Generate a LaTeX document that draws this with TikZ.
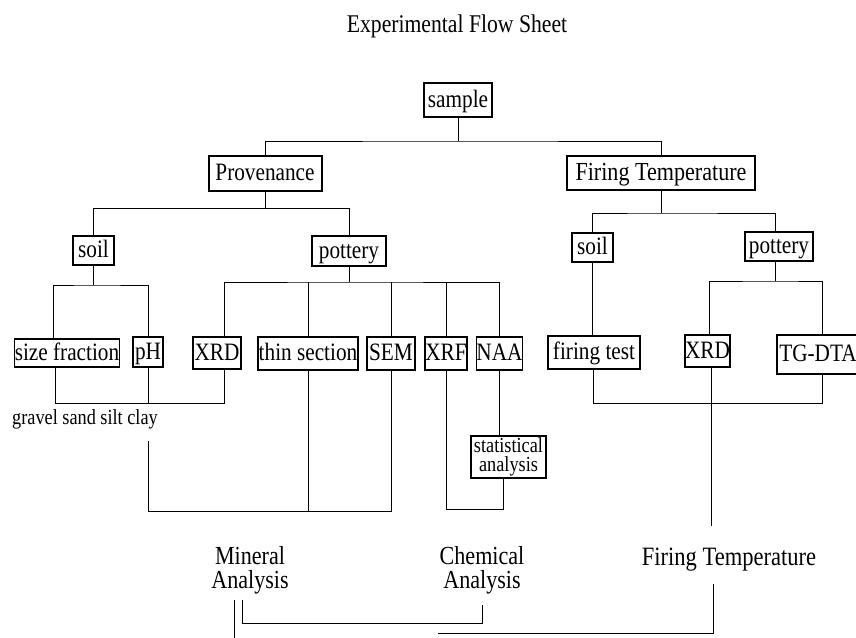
\documentclass[tikz,border=0pt]{standalone}
\usepackage{fontspec}
\setmainfont{Liberation Serif}[FakeStretch=0.85]
\usepackage{tikz}

\tikzset{
    box/.style={draw, line width=1.3pt, inner sep=0pt, text height=16.5pt, text depth=2.5pt,
        font=\fontsize{25}{27}\selectfont},
    bold box/.style={box, line width=2pt},
    caption text/.style={inner sep=0pt, font=\fontsize{26}{24}\selectfont},
}

\begin{document}
\begin{tikzpicture}[x=1pt, y=-1pt, line width=0.9pt]
        \useasboundingbox (0,0) rectangle (856,637);

        % Title
        \node[caption text, anchor=base, font=\fontsize{25.5}{27}\selectfont] (title) at (457,32) {Experimental Flow Sheet};

        % Top level
        \node[bold box, minimum width=68pt, minimum height=34pt] (sample) at (458,100) {sample};
        \node[bold box, minimum width=113pt, minimum height=35pt] (prov) at (265,173) {Provenance};
        \node[bold box, minimum width=188pt, minimum height=34pt, font=\fontsize{26}{28}\selectfont] (firing) at (661,173) {Firing Temperature};

        % Second level
        \node[bold box, minimum width=41pt, minimum height=29pt] (lsoil) at (93.5,250.5) {soil};
        \node[bold box, minimum width=74pt, minimum height=30pt] (lpot) at (349,251) {pottery};
        \node[bold box, minimum width=41pt, minimum height=29pt] (rsoil) at (592.5,247.5) {soil};
        \node[bold box, minimum width=68pt, minimum height=29pt] (rpot) at (779,246.5) {pottery};

        % Methods (row of boxes)
        \node[box, minimum width=104pt, minimum height=28pt] (size) at (67,353) {size fraction};
        \node[box, minimum width=30pt, minimum height=30pt] (ph) at (148,352) {pH};
        \node[box, minimum width=48pt, minimum height=32pt] (lxrd) at (217,353) {XRD};
        \node[box, minimum width=100pt, minimum height=33pt] (thin) at (308,353.5) {thin section};
        \node[box, minimum width=48pt, minimum height=33pt] (sem) at (391,353.5) {SEM};
        \node[box, minimum width=42pt, minimum height=33pt] (xrf) at (446,353.5) {XRF};
        \node[box, minimum width=45pt, minimum height=33pt] (naa) at (499.5,353.5) {NAA};
        \node[box, minimum width=92pt, minimum height=33pt] (ftest) at (594,352.5) {firing test};
        \node[box, minimum width=43pt, minimum height=32pt] (rxrd) at (707.5,351) {XRD};
        \node[box, minimum width=82pt, minimum height=39pt] (tgdta) at (818,354.5) {TG-DTA};
        \node[box, align=center, text height=, text depth=, minimum width=75pt, minimum height=42pt,
            font=\fontsize{21.5}{19.5}\selectfont] (stat) at (508.5,457) {statistical\\analysis};

        \node[caption text, anchor=base, font=\fontsize{21.5}{23}\selectfont] (gravel) at (85,424) {gravel sand silt clay};

        % Results
        \node[caption text, align=center] (mineral) at (250,570) {Mineral\\Analysis};
        \node[caption text, align=center] (chemical) at (482,570) {Chemical\\Analysis};
        \node[caption text, anchor=base, font=\fontsize{26.5}{28}\selectfont] (firtemp) at (729,565) {Firing Temperature};

        % sample to Provenance / Firing Temperature
        \draw (sample.south) -- ++(0,23) coordinate (b0);
        \draw (prov.north) |- (b0) -| (firing.north);

        % Provenance to soil / pottery
        \draw (prov.south) -- ++(0,17) coordinate (b1);
        \draw (lsoil.north) |- (b1) -| (lpot.north);

        % soil to size fraction / pH
        \draw (lsoil.south) -- ++(0,19) coordinate (b2);
        \draw ([xshift=-14pt]size.north) |- (b2) -| (ph.north);

        % pottery to its methods
        \draw (lpot.south) -- ++(0,15) coordinate (b3);
        \draw ([xshift=7pt]lxrd.north) |- (b3) -| (naa.north);
        \foreach \n in {thin, sem, xrf} {
            \draw (\n.north) -- (\n.north |- b3);
        }

        % join below size fraction, pH and XRD
        \draw ([xshift=-12pt]size.south) -- ++(0,36) coordinate (b4) -| ([xshift=7pt]lxrd.south);
        \draw (ph.south) -- (ph.south |- b4);

        % mineral branch
        \coordinate (m1) at (148,441);
        \draw (m1) -- ++(0,70) coordinate (b5) -| (sem.south);
        \draw (thin.south) -- (thin.south |- b5);

        % chemical branch
        \draw (naa.south) -- (naa.south |- stat.north);
        \draw (xrf.south) -- ++(0,139) coordinate (b6) -| ([xshift=-5pt]stat.south);

        % Firing Temperature to soil / pottery
        \draw (firing.south) -- ++(0,22) coordinate (b7);
        \draw (rsoil.north) |- (b7) -| ([xshift=-4pt]rpot.north);
        \draw (rsoil.south) -- (rsoil.south |- ftest.north);
        \draw ([xshift=-4pt]rpot.south) -- ++(0,19) coordinate (b8);
        \draw ([xshift=1.5pt]rxrd.north) |- (b8) -| ([xshift=4pt]tgdta.north);

        % join below firing test, XRD and TG-DTA
        \draw ([xshift=-1pt]ftest.south) -- ++(0,34) coordinate (b9) -| ([xshift=4pt]tgdta.south);
        \draw ([xshift=3.5pt]rxrd.south) -- ++(0,158) coordinate (c1);

        % brackets below the results
        \draw ([xshift=-8pt,yshift=-6pt]mineral.south) -- ++(0,23) coordinate (c3) -| ([yshift=-11pt]chemical.south);
        \draw ([xshift=-16pt,yshift=-6pt]mineral.south) -- ++(0,45);
        \coordinate (c2) at (438,633);
        \draw (c2) -| ([xshift=-16pt,yshift=-13pt]firtemp.south);

    \end{tikzpicture}
\end{document}
